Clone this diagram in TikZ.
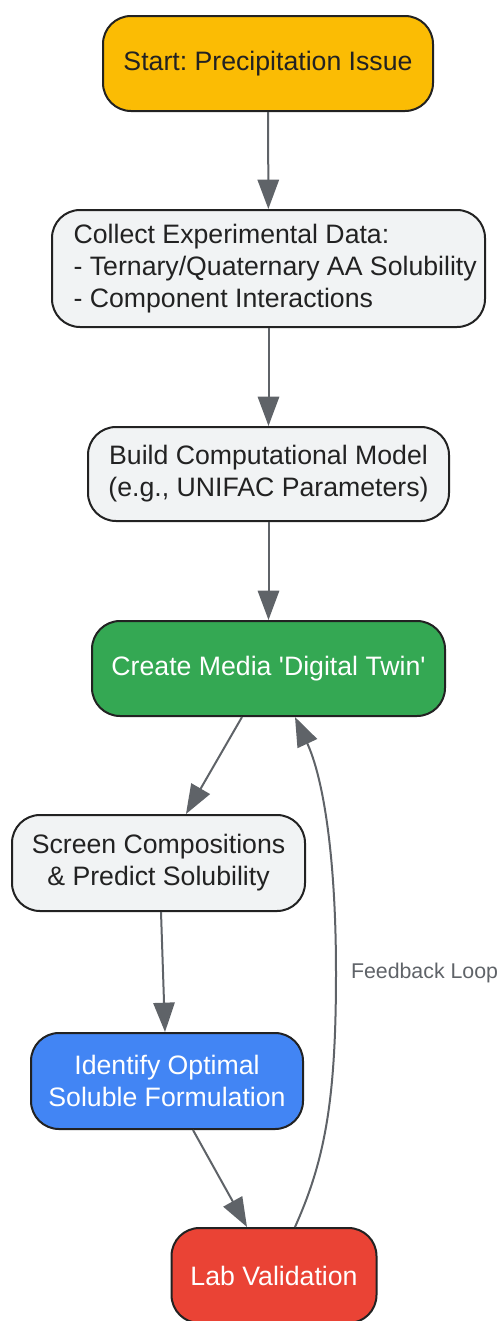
\documentclass[tikz,border=0pt]{standalone}
\usepackage{fontspec}
\setmainfont{Liberation Sans}[Ligatures=TeXOff]
\frenchspacing
\usetikzlibrary{arrows.meta,calc}

\definecolor{startc}{HTML}{FBBC04}
\definecolor{twinc}{HTML}{34A853}
\definecolor{optc}{HTML}{4285F4}
\definecolor{labc}{HTML}{EA4335}
\definecolor{stepc}{HTML}{F1F3F4}
\definecolor{edgec}{HTML}{5F6368}
\definecolor{inkc}{HTML}{222222}

\begin{document}
\begin{tikzpicture}[x=0.75pt, y=-0.75pt,
    box/.style = {draw=inkc, line width=1.5pt, rounded corners=21pt, inner sep=0pt,
                  align=center, text=inkc, font=\fontsize{20}{24}\selectfont},
    plain/.style = {box, fill=stepc},
    flow/.style = {draw=edgec, line width=1.5pt, -{Triangle[length=22pt,width=16pt]}}]
    \useasboundingbox (0,0) rectangle (499,1321);

    \node[box, fill=startc, minimum width=247.5pt, minimum height=71.25pt] (start) at (268,63.5) {Start: Precipitation Issue};
    \node[plain, align=left, minimum width=324.75pt, minimum height=87.75pt] (collect) at (268.5,268.5) {\hspace*{10pt}Collect Experimental Data:\\\hspace*{10pt}- Ternary/Quaternary AA Solubility\\\hspace*{10pt}- Component Interactions};
    \node[plain, minimum width=270.75pt, minimum height=70.5pt] (build) at (268.5,474) {Build Computational Model\\(e.g., UNIFAC Parameters)};
    \node[box, fill=twinc, text=white, minimum width=264.75pt, minimum height=71.25pt] (twin) at (268.5,668.5) {Create Media 'Digital Twin'};
    \node[plain, minimum width=219.75pt, minimum height=72pt] (screen) at (158.5,863) {Screen Compositions\\\& Predict Solubility};
    \node[box, fill=optc, text=white, minimum width=204pt, minimum height=72pt] (identify) at (167,1081) {Identify Optimal\\Soluble Formulation};
    \node[box, fill=labc, text=white, minimum width=153.75pt, minimum height=71.25pt] (lab) at (274,1275.5) {Lab Validation};

    \draw[flow] (start) -- (collect);
    \draw[flow] (collect) -- (build);
    \draw[flow] (build) -- (twin);
    \draw[flow] ($(twin.south)+(-26.5,0)$) -- ($(screen.north)+(27.5,0)$);
    \draw[flow] ($(screen.south)+(2.5,0)$) -- ($(identify.north)+(-2,0)$);
    \draw[flow] ($(identify.south)+(26,0)$) -- ($(lab.north)+(-27,0)$);
    % feedback from the lab back to the twin
    \draw[flow] ($(lab.north)+(21,0)$) .. controls (325,1160) and (336,1100) .. (336,973)
        node[anchor=west, xshift=10.5pt, inner sep=0pt, text=edgec, font=\fontsize{16}{19}\selectfont] (loop) {Feedback Loop}
        .. controls (336,850) and (322,775) .. ($(twin.south)+(26.5,0)$);
\end{tikzpicture}
\end{document}
